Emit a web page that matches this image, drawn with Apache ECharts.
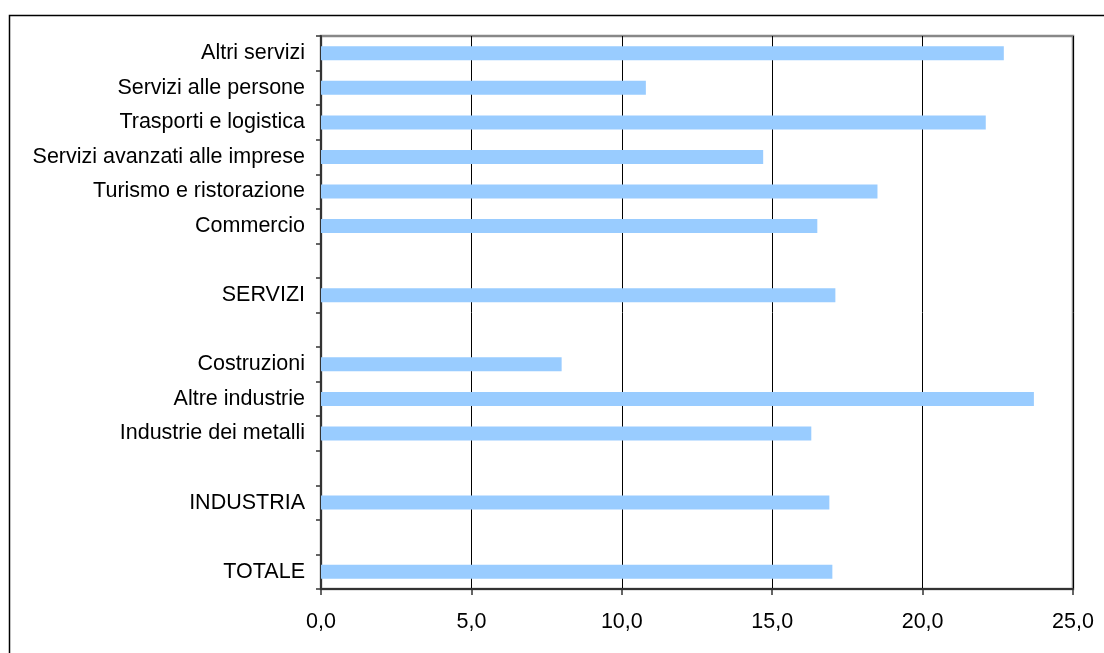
<!DOCTYPE html>
<html>
<head>
<meta charset="utf-8">
<script src="https://cdn.jsdelivr.net/npm/echarts@6/dist/echarts.min.js"></script>
<style>html,body{margin:0;padding:0;background:#fff}#c{width:1104px;height:653px}</style>
</head>
<body>
<div id="c"></div>
<script>
// Categories listed bottom to top; blank rows are spacers
const categories = ['TOTALE', ' ', 'INDUSTRIA', '  ', 'Industrie dei metalli', 'Altre industrie', 'Costruzioni', '   ', 'SERVIZI', '    ', 'Commercio', 'Turismo e ristorazione', 'Servizi avanzati alle imprese', 'Trasporti e logistica', 'Servizi alle persone', 'Altri servizi'];
const values = [17.0, null, 16.9, null, 16.3, 23.7, 8.0, null, 17.1, null, 16.5, 18.5, 14.7, 22.1, 10.8, 22.7];
const xTicks = [0, 5, 10, 15, 20, 25];

const font = 'Liberation Sans, Arial, sans-serif';
const chart = echarts.init(document.getElementById('c'), null, {renderer: 'canvas'});
chart.setOption({
  animation: false,
  backgroundColor: '#fff',
  grid: {left: 321, right: 31, top: 36, bottom: 64, show: true, borderColor: '#888', borderWidth: 2.5, backgroundColor: 'transparent'},
  xAxis: {
    type: 'value', min: xTicks[0], max: xTicks[xTicks.length - 1], interval: 5,
    axisLine: {show: true, lineStyle: {color: '#333', width: 2}},
    axisTick: {show: true, length: 6, lineStyle: {color: '#333', width: 1.5}},
    splitLine: {show: true, lineStyle: {color: '#000', width: 1}},
    axisLabel: {color: '#000', fontFamily: font, fontSize: 21.5, margin: 22,
      formatter: v => v.toFixed(1).replace('.', ',')}
  },
  yAxis: {
    type: 'category', data: categories,
    axisLine: {show: true, lineStyle: {color: '#333', width: 2}},
    axisTick: {show: true, length: 5, alignWithLabel: false, interval: 0, lineStyle: {color: '#333', width: 1.5}},
    axisLabel: {color: '#000', fontFamily: font, fontSize: 21.5, margin: 16, interval: 0},
    splitLine: {show: false}
  },
  series: [{
    type: 'bar', data: values, barWidth: 14,
    itemStyle: {color: '#99CCFF'}
  }],
  graphic: [{
    type: 'rect', shape: {x: 9.5, y: 15.5, width: 1200, height: 700},
    style: {fill: 'none', stroke: '#000', lineWidth: 1.5}, silent: true, z: 100
  }]
});
</script>
</body>
</html>
